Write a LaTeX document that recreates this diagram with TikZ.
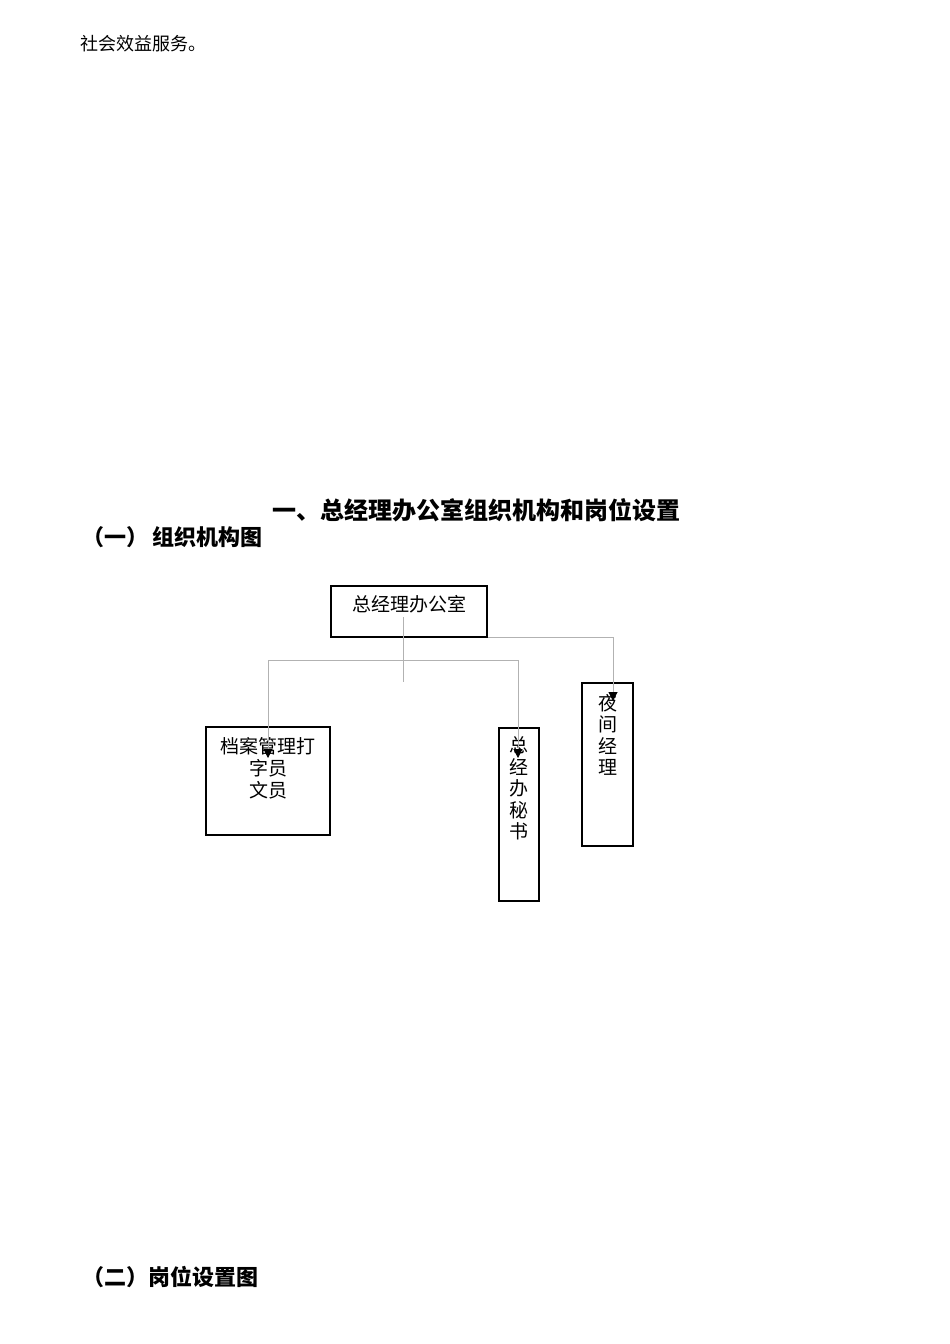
\documentclass[tikz,border=0pt]{standalone}
\usepackage{fontspec}
\setmainfont{Liberation Serif}
\newfontfamily\cjk{Noto Sans CJK SC}
\usetikzlibrary{arrows.meta}
\tikzset{
  box/.style={draw=black, line width=1.5pt, inner sep=0pt},
  txt/.style={font=\cjk\fontsize{19}{22}\selectfont, align=center, inner sep=0pt},
  vtxt/.style={font=\cjk\fontsize{19}{21.5}\selectfont, align=center, inner sep=0pt},
  gline/.style={draw=black!30, line width=1pt},
  arr/.style={gline, -{Triangle[length=9pt,width=9pt,color=black]}},
  head/.style={font=\cjk\bfseries\fontsize{24}{28}\selectfont, anchor=west, inner sep=0pt},
  sub/.style={font=\cjk\bfseries\fontsize{22}{26}\selectfont, anchor=west, inner sep=0pt},
  body/.style={font=\cjk\fontsize{18}{22}\selectfont, anchor=west, inner sep=0pt}
}
\begin{document}
\begin{tikzpicture}[x=1pt,y=-1pt]
\useasboundingbox[fill=white] (0,0) rectangle (950,1344);
% texts
\node[body] (p0) at (80,44) {社会效益服务。};
\node[head] (h1) at (272,510) {一、总经理办公室组织机构和岗位设置};
\node[sub] (h2) at (82,537) {（一）\hspace{4pt}组织机构图};
\node[sub] (h3) at (82,1277) {（二）岗位设置图};
% boxes
\node[box, minimum width=156, minimum height=51] (top) at (409,611.5) {};
\node[txt] (toptxt) at (409,604) {总经理办公室};
\node[box, minimum width=124, minimum height=108] (b1) at (268,781) {};
\node[txt] (b1t) at (268,768) {档案管理打\\字员\\文员};
\node[box, minimum width=40, minimum height=173] (b2) at (519,814.5) {};
\node[vtxt] (b2t) at (519,788.5) {总\\经\\办\\秘\\书};
\node[box, minimum width=51, minimum height=163] (b3) at (607.5,764.5) {};
\node[vtxt] (b3t) at (608,735) {夜\\间\\经\\理};
% connectors
\coordinate (v0) at (403,617);
\coordinate (v1) at (403,682);
\coordinate (hl) at (268,660);
\coordinate (hr) at (518,660);
\coordinate (a1) at (268,758);
\coordinate (a2) at (518,758);
\coordinate (a3) at (613,701);
\draw[gline] (v0) -- (v1);
\draw[gline] (hl) -- (hr);
\draw[arr] (hl) -- (a1);
\draw[arr] (hr) -- (a2);
\draw[arr] (top.south east) -| (a3);
\end{tikzpicture}
\end{document}
